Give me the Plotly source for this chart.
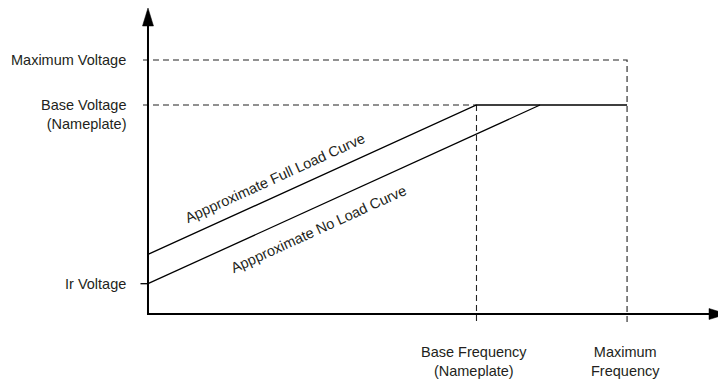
import plotly.graph_objects as go

# ---------------- data ----------------
freq_marks = [60, 87.5]                     # base frequency, maximum frequency
freq_labels = ["Base Frequency<br>(Nameplate)", "Maximum<br>Frequency"]
volt_marks = [14.5, 100, 121.5]             # Ir, base, maximum voltage
volt_labels = ["Ir Voltage", "Base Voltage<br>(Nameplate)", "Maximum Voltage"]

full_load_f = [0, 60, 87.5]
full_load_v = [28.5, 100, 100]
no_load_f = [0, 71.6]
no_load_v = [14.5, 100]
curve_labels = ["Appproximate Full Load Curve", "Appproximate No Load Curve"]

# ---------------- layout constants ----------------
W, H = 718, 381
X_RANGE = [-27.03, 104.11]
Y_RANGE = [-32.06, 150.24]
PX_X = W / (X_RANGE[1] - X_RANGE[0])   # pixels per x unit
PX_Y = H / (Y_RANGE[1] - Y_RANGE[0])   # pixels per y unit
TXT = "#231f20"
FONT = dict(family="Liberation Sans, Arial, Helvetica, sans-serif", size=14.5, color=TXT)
DASH = "6px,4px"

base_f, max_f = freq_marks
ir_v, base_v, max_v = volt_marks

fig = go.Figure()

def line(xs, ys, width=1.3, dash=None, color="black"):
    fig.add_trace(go.Scatter(x=xs, y=ys, mode="lines", hoverinfo="skip",
                             line=dict(color=color, width=width, dash=dash)))

def tri(xs, ys):
    fig.add_trace(go.Scatter(x=xs, y=ys, mode="lines", fill="toself", fillcolor="black",
                             hoverinfo="skip", line=dict(color="black", width=0.5)))

# axes extents
y_top = Y_RANGE[1] - 8 / PX_Y          # arrow tip near top
x_right = X_RANGE[1]                    # arrow tip at right edge
head_len, head_half = 18, 5.5

# dashed guides
below = -9 / PX_Y
left = -5 / PX_X
line([left, max_f, max_f], [max_v, max_v, below], width=1.1, dash=DASH, color="#222")
line([left, base_f], [base_v, base_v], width=1.1, dash=DASH, color="#222")
line([base_f, base_f], [base_v, below], width=1.1, dash=DASH, color="#222")

# Ir tick
line([-7.5 / PX_X, 0], [ir_v, ir_v], width=1.3)

# curves
line(full_load_f, full_load_v, width=1.3)
line(no_load_f, no_load_v, width=1.3)

# axis lines
y_base = y_top - head_len / PX_Y
x_base = x_right - 9 / PX_X
line([0, 0, x_base], [y_base, 0, 0], width=2)

# arrowheads
tri([-head_half / PX_X, head_half / PX_X, 0, -head_half / PX_X], [y_base, y_base, y_top, y_base])
tri([x_base, x_base, x_base + head_len / PX_X, x_base],
    [-head_half / PX_Y, head_half / PX_Y, 0, -head_half / PX_Y])

annotations = []
# voltage labels (left)
for v, lab in zip(volt_marks, volt_labels):
    multi = "<br>" in lab
    annotations.append(dict(x=0, y=v, text=lab, showarrow=False, xanchor="right",
                            yanchor="top" if multi else "middle", align="right",
                            xshift=-20, yshift=10 if multi else 0, font=FONT))
# frequency labels (bottom)
for f, lab in zip(freq_marks, freq_labels):
    annotations.append(dict(x=f, y=0, text=lab, showarrow=False, xanchor="center",
                            yanchor="top", align="center", xshift=-2, yshift=-28, font=FONT))
# curve labels
angle = -24.5
annotations.append(dict(x=23.2, y=65.1, text=curve_labels[0], showarrow=False,
                        textangle=angle, font=FONT))
annotations.append(dict(x=31.2, y=40.7, text=curve_labels[1], showarrow=False,
                        textangle=angle, font=FONT))

fig.update_layout(
    width=W, height=H,
    margin=dict(l=0, r=0, t=0, b=0, pad=0),
    paper_bgcolor="white", plot_bgcolor="white",
    showlegend=False,
    xaxis=dict(range=X_RANGE, visible=False, fixedrange=True),
    yaxis=dict(range=Y_RANGE, visible=False, fixedrange=True),
    annotations=annotations,
)

fig.write_html("out.html", config={"displayModeBar": False},
               post_script="document.body.style.margin='0';document.body.style.overflow='hidden';")
